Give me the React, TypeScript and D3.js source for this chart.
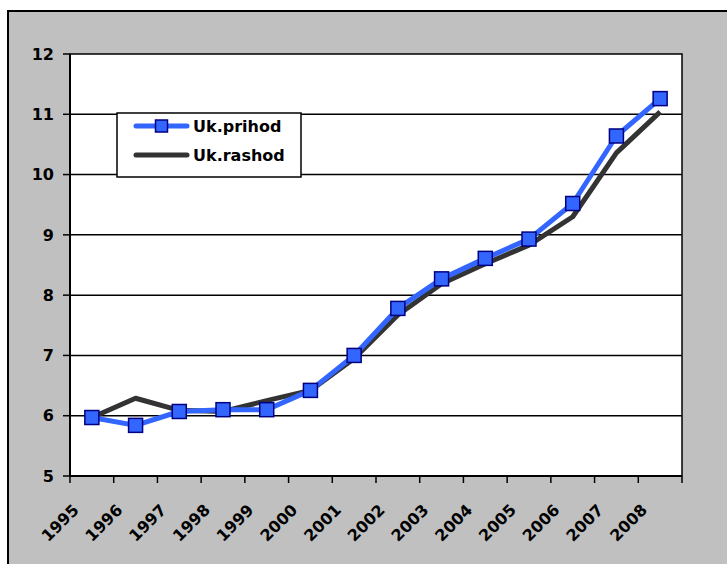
import React from "react";
import * as d3 from "d3";

const years = ["1995","1996","1997","1998","1999","2000","2001","2002","2003","2004","2005","2006","2007","2008"];
const prihod = [5.97, 5.84, 6.07, 6.1, 6.1, 6.42, 7.0, 7.78, 8.27, 8.61, 8.93, 9.52, 10.64, 11.26];
const rashod = [5.97, 6.29, 6.09, 6.07, 6.25, 6.42, 6.95, 7.67, 8.19, 8.52, 8.83, 9.3, 10.36, 11.04];
const yTicks = [5, 6, 7, 8, 9, 10, 11, 12];
const seriesNames = ["Uk.prihod", "Uk.rashod"];

const W = 727, H = 564;
const left = 70, right = 682, top = 54, bottom = 476;
const FONT = "'DejaVu Sans', Verdana, sans-serif";

export default function App() {
  const x = d3.scaleBand<string>().domain(years).range([left, right]).padding(0);
  const y = d3.scaleLinear().domain([5, 12]).range([bottom, top]);
  const bw = x.bandwidth();
  const cx = (d: string) => (x(d) as number) + bw / 2;
  const line = d3.line<number>().x((_, i) => cx(years[i])).y((v) => y(v));
  const boundaries = [...years.map((d) => x(d) as number), right];
  const ms = 14;

  return (
    <svg width={W} height={H} style={{ position: "absolute", left: 0, top: 0 }} fontFamily={FONT}>
      <rect x={8} y={11} width={740} height={570} fill="#C0C0C0" stroke="#000" strokeWidth={2} />
      <rect x={left} y={top} width={right - left} height={bottom - top} fill="#fff" stroke="#000" strokeWidth={1.5} />
      {yTicks.filter((t) => t > 5 && t < 12).map((t) => (
        <line key={"g" + t} x1={left} x2={right} y1={y(t)} y2={y(t)} stroke="#000" strokeWidth={1.5} />
      ))}
      {/* axes */}
      <line x1={left} x2={left} y1={top} y2={bottom} stroke="#000" strokeWidth={2} />
      <line x1={left} x2={right} y1={bottom} y2={bottom} stroke="#000" strokeWidth={2} />
      {yTicks.map((t) => (
        <g key={"yt" + t}>
          <line x1={left - 7} x2={left} y1={y(t)} y2={y(t)} stroke="#000" strokeWidth={1.5} />
          <text x={54} y={y(t)} dy="0.36em" textAnchor="end" fontSize={16} fontWeight="bold" fill="#000">{t}</text>
        </g>
      ))}
      {boundaries.map((b, i) => (
        <line key={"xt" + i} x1={b} x2={b} y1={bottom} y2={bottom + 7} stroke="#000" strokeWidth={1.5} />
      ))}
      {years.map((d) => {
        const ax = cx(d) - 12;
        const ay = 511;
        return (
          <text key={"xl" + d} x={ax} y={ay} textAnchor="end" fontSize={16} fontWeight="bold" fill="#000"
            transform={`rotate(-45 ${ax} ${ay})`}>{d}</text>
        );
      })}
      <path d={line(rashod) || ""} fill="none" stroke="#333333" strokeWidth={5} strokeLinejoin="round" />
      <path d={line(prihod) || ""} fill="none" stroke="#3366FF" strokeWidth={5} strokeLinejoin="round" />
      {prihod.map((v, i) => (
        <rect key={"m" + i} x={cx(years[i]) - ms / 2} y={y(v) - ms / 2} width={ms} height={ms}
          fill="#3366FF" stroke="#000080" strokeWidth={1.5} />
      ))}
      {/* legend */}
      <rect x={117} y={113} width={184} height={64} fill="#fff" stroke="#000" strokeWidth={1.5} />
      <line x1={136} x2={187} y1={126} y2={126} stroke="#3366FF" strokeWidth={5} strokeLinecap="round" />
      <rect x={161.5 - 6} y={126 - 6} width={12} height={12} fill="#3366FF" stroke="#000080" strokeWidth={1.5} />
      <text x={193} y={126} dy="0.36em" fontSize={16} fontWeight="bold" fill="#000">{seriesNames[0]}</text>
      <line x1={136} x2={187} y1={155} y2={155} stroke="#333333" strokeWidth={5} strokeLinecap="round" />
      <text x={193} y={155} dy="0.36em" fontSize={16} fontWeight="bold" fill="#000">{seriesNames[1]}</text>
    </svg>
  );
}
